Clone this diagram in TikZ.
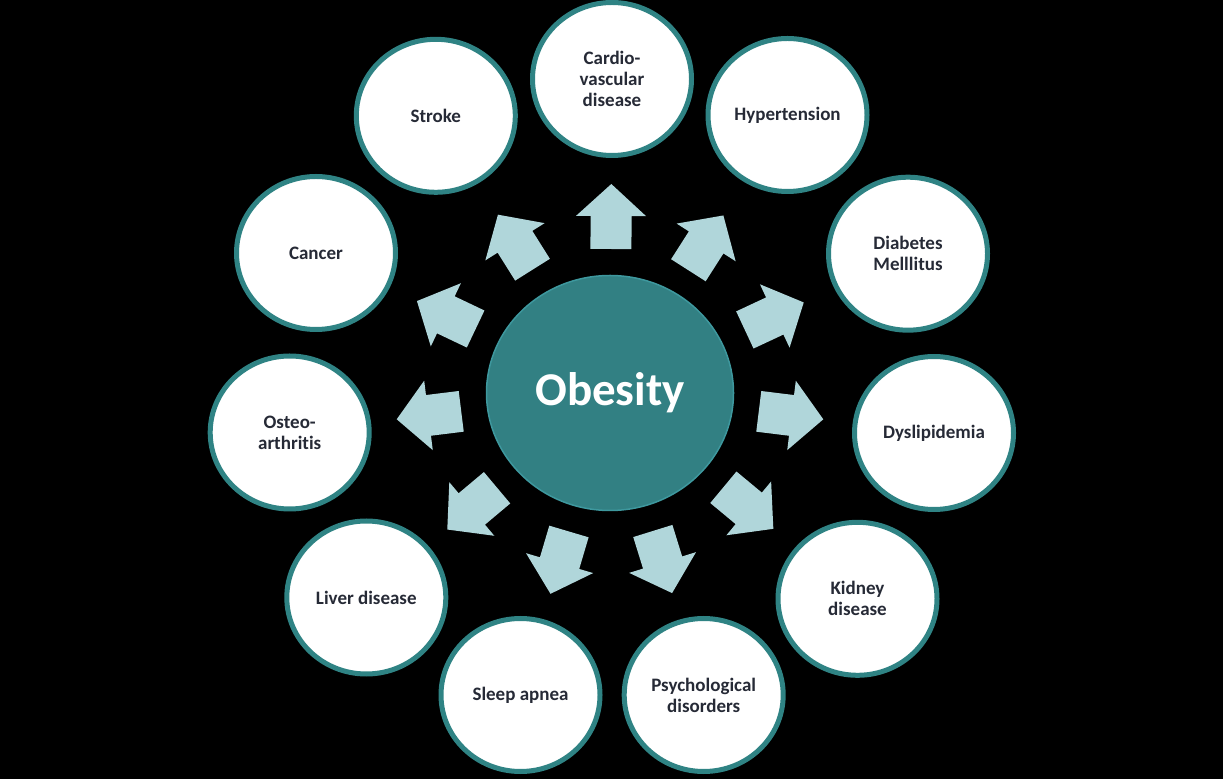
\documentclass[tikz,border=0pt]{standalone}
\usepackage{fontspec}
\setmainfont{Carlito}[Ligatures=NoCommon]
\usetikzlibrary{shapes.geometric,calc}
\definecolor{ringteal}{RGB}{47,131,132}
\definecolor{hubfill}{RGB}{50,128,131}
\definecolor{hubline}{RGB}{62,152,158}
\definecolor{arrowblue}{RGB}{176,214,218}
\definecolor{labeldark}{RGB}{38,42,54}
\tikzset{
  outerbubble/.style={ellipse, draw=ringteal, line width=5pt, fill=white,
    minimum width=159pt, minimum height=153pt, inner sep=0pt, align=center,
    text=labeldark, font=\fontsize{19}{21}\selectfont\bfseries},
  hubbubble/.style={ellipse, draw=hubline, line width=1.5pt, fill=hubfill,
    minimum width=247pt, minimum height=235pt, inner sep=0pt,
    text=white, font=\fontsize{47}{50}\selectfont\bfseries},
  blockarrow/.style={fill=arrowblue}
}
\begin{document}
\begin{tikzpicture}[x=1pt,y=1pt]
\fill[black] (0,0) rectangle (1223,779);
\useasboundingbox (0,0) rectangle (1223,779);
\node[hubbubble] (ob) at (610,386) {Obesity};
\foreach \nm/\nx/\ny/\txt in {
  cardio/612/700/{Cardio-\\vascular\\disease},
  hyper/787.5/664/{Hypertension},
  diab/908/525.3/{Diabetes\\Melllitus},
  dysl/934/346/{Dyslipidemia},
  kidney/857.5/180.2/{Kidney\\disease},
  psych/703.7/84/{Psychological\\disorders},
  sleep/520.5/84/{Sleep apnea},
  liver/366.3/181.5/{Liver disease},
  osteo/289.7/346.5/{Osteo-\\arthritis},
  cancer/316/526/{Cancer},
  stroke/435.8/663.2/{Stroke}} {
  \node[outerbubble] (\nm) at (\nx,\ny) {\txt};
  \pgfmathsetmacro\ang{atan2(\ny-386,\nx-610)}
  \pgfmathsetmacro\rs{124*118/sqrt((118*cos(\ang))^2+(124*sin(\ang))^2)+26}
  \begin{scope}[shift={(ob.center)}, rotate=\ang]
    \fill[blockarrow] (\rs,-20.5) -- ++(33,0) -- ++(0,-14.5) -- ++(32,35)
      -- ++(-32,35) -- ++(0,-14.5) -- ++(-33,0) -- cycle;
  \end{scope}
}
\end{tikzpicture}
\end{document}
